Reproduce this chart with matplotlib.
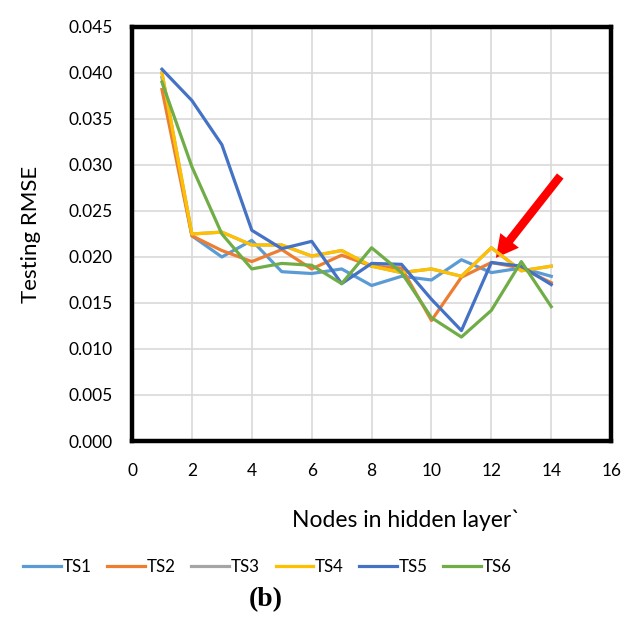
import matplotlib
matplotlib.use("Agg")
import matplotlib.pyplot as pyplot
from matplotlib.patches import FancyArrowPatch

pyplot.rcParams["font.family"] = ["Lato", "DejaVu Sans"]

nodes = [1, 2, 3, 4, 5, 6, 7, 8, 9, 10, 11, 12, 13, 14]

ts1 = [0.0395, 0.0223, 0.0200, 0.0218, 0.0184, 0.0182, 0.0187,
       0.0169, 0.0179, 0.0175, 0.0197, 0.0183, 0.0188, 0.0179]
ts2 = [0.0382, 0.0223, 0.0207, 0.0195, 0.0208, 0.0187, 0.0202,
       0.0190, 0.0188, 0.0131, 0.0178, 0.0194, 0.0188, 0.0172]
ts3 = [0.0400, 0.0225, 0.0227, 0.0213, 0.0213, 0.0201, 0.0207,
       0.0190, 0.0183, 0.0187, 0.0179, 0.0210, 0.0185, 0.0190]
ts4 = [0.0400, 0.0225, 0.0227, 0.0213, 0.0213, 0.0201, 0.0207,
       0.0190, 0.0183, 0.0187, 0.0179, 0.0210, 0.0185, 0.0190]
ts5 = [0.0404, 0.0370, 0.0322, 0.0229, 0.0209, 0.0217, 0.0171,
       0.0193, 0.0192, 0.0154, 0.0120, 0.0194, 0.0190, 0.0170]
ts6 = [0.0390, 0.0298, 0.0225, 0.0187, 0.0193, 0.0191, 0.0171,
       0.0210, 0.0183, 0.0134, 0.0113, 0.0142, 0.0195, 0.0146]

series = {"TS1": ts1, "TS2": ts2, "TS3": ts3, "TS4": ts4, "TS5": ts5, "TS6": ts6}
colors = {"TS1": "#5B9BD5", "TS2": "#ED7D31", "TS3": "#A5A5A5",
          "TS4": "#FFC000", "TS5": "#4472C4", "TS6": "#70AD47"}

figure = pyplot.figure(figsize=(6.44, 6.41), dpi=100)
axe = figure.add_axes([0.205, 0.312, 0.744, 0.646])

for name, values in series.items():
    axe.plot(nodes, values, color=colors[name], linewidth=2.3, label=name)

axe.set_xlim(0, 16)
axe.set_ylim(0, 0.045)
axe.set_xticks(range(0, 17, 2))
axe.set_yticks([i * 0.005 for i in range(10)])
axe.set_yticklabels(["%.3f" % (i * 0.005) for i in range(10)])
axe.tick_params(length=0, labelsize=12.5, colors="black")
axe.tick_params(axis="y", pad=14)
axe.tick_params(axis="x", pad=16)
axe.grid(True, color="#D9D9D9", linewidth=1.2)
axe.set_axisbelow(True)
for spine in axe.spines.values():
    spine.set_linewidth(3.2)
    spine.set_color("black")

axe.set_ylabel("Testing RMSE", fontsize=16)
axe.yaxis.set_label_coords(-0.19, 0.5)
axe.set_xlabel("Nodes in hidden layer`", fontsize=16.5)
axe.xaxis.set_label_coords(0.572, -0.165)

arrow = FancyArrowPatch((14.3, 0.0288), (12.15, 0.0199),
                        arrowstyle="simple,head_length=1.6,head_width=1.7,tail_width=0.6",
                        mutation_scale=10, color="#FF0000", linewidth=0,
                        shrinkA=0, shrinkB=0)
axe.add_patch(arrow)

figure.legend(loc="center", bbox_to_anchor=(0.415, 0.115), ncol=6, frameon=False,
              fontsize=12.2, handlelength=2.2, columnspacing=0.95, handletextpad=0.1)

figure.text(0.413, 0.064, "(b)", fontsize=20, fontweight="bold",
            family="Liberation Serif", ha="center", va="center")

figure.savefig("out.png", dpi=100)
